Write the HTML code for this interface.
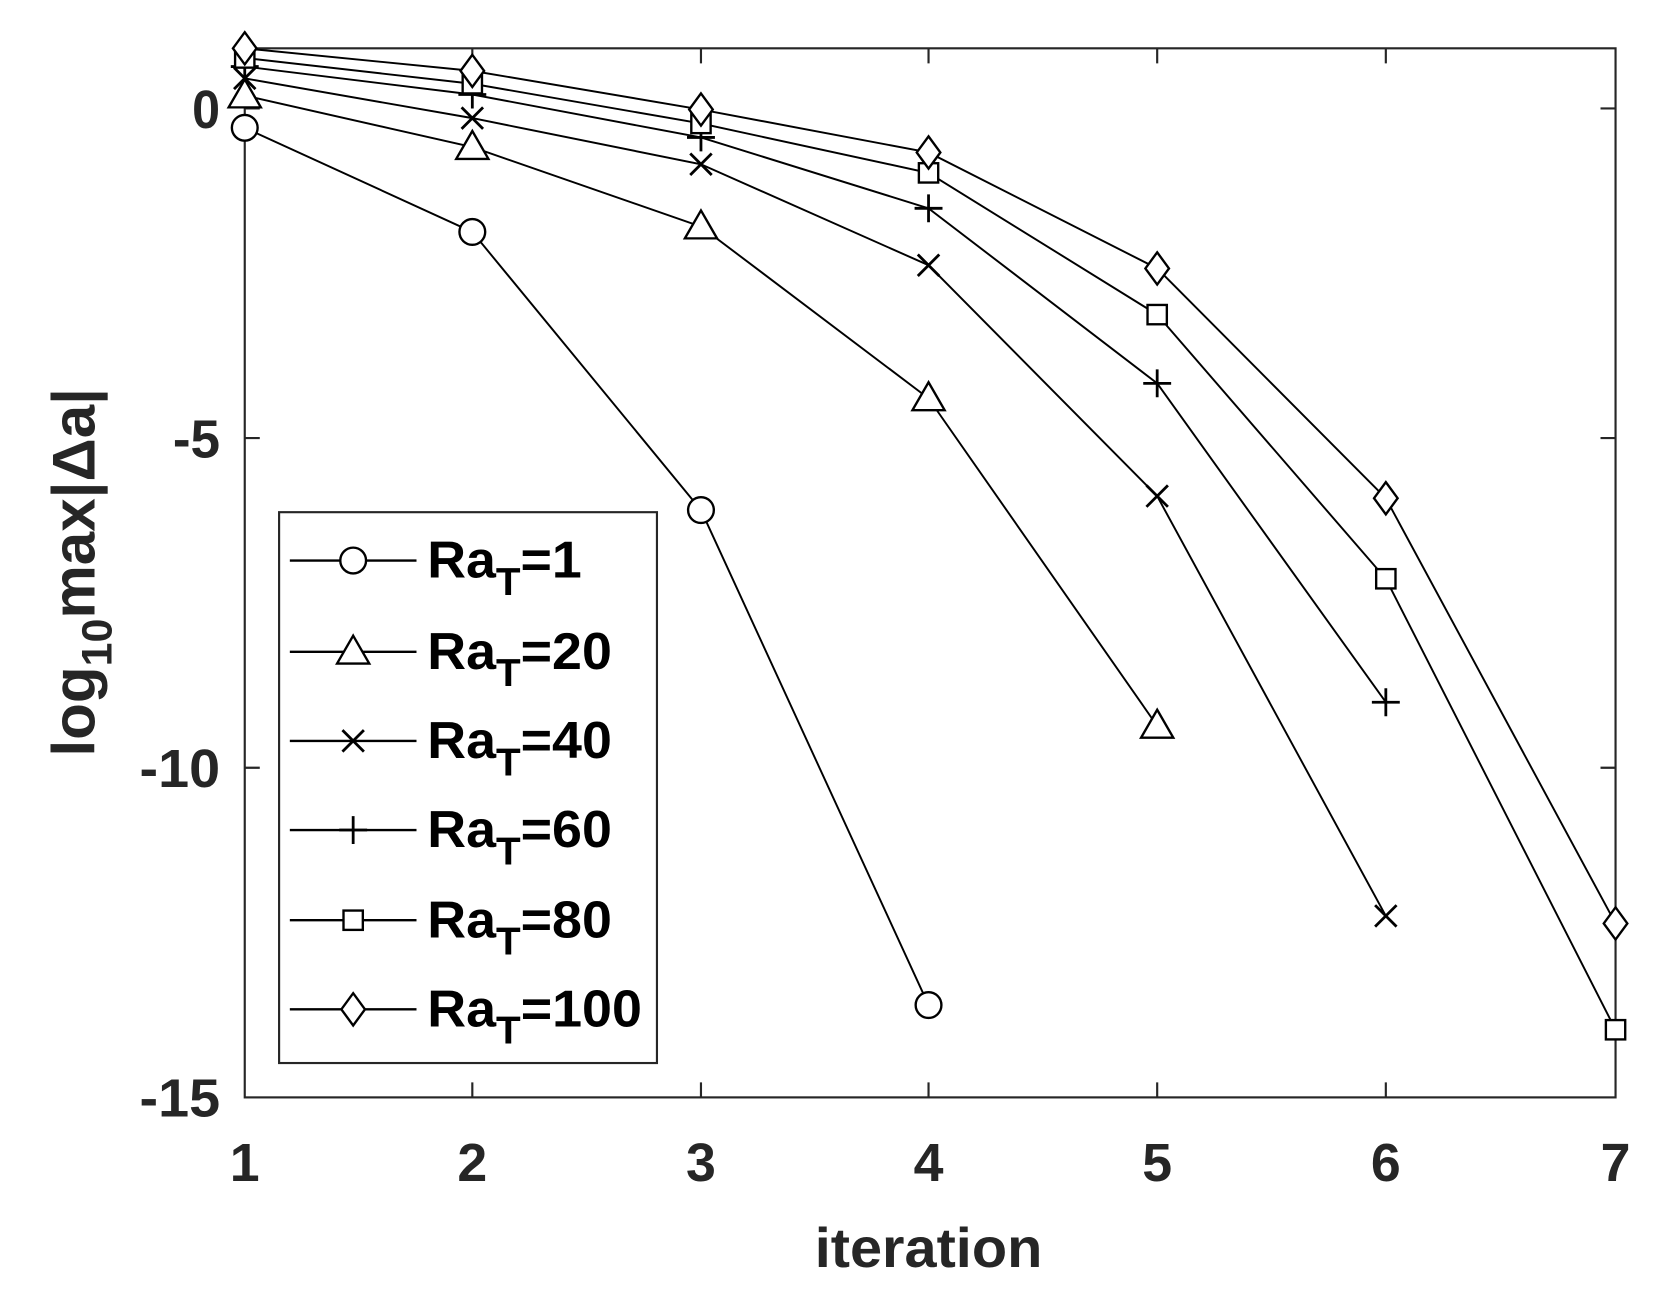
<!DOCTYPE html>
<html><head><style>html,body{margin:0;padding:0;background:#fff}svg{display:block}</style></head>
<body>
<svg width="1666" height="1310" viewBox="0 0 1552 1220" preserveAspectRatio="none" xmlns="http://www.w3.org/2000/svg" font-family="Liberation Sans, Arial, sans-serif" font-weight="bold">
<rect width="1552" height="1220" fill="#fff"/>
<g stroke="#262626" stroke-width="2" fill="none">
<rect x="228" y="45" width="1277" height="977"/>
<path d="M228,101h14M228,408h14M228,715h14M1505,101h-14M1505,408h-14M1505,715h-14
M440,1022v-14M653,1022v-14M865,1022v-14M1078,1022v-14M1291,1022v-14
M440,45v14M653,45v14M865,45v14M1078,45v14M1291,45v14"/>
</g>
<g fill="#262626" font-size="50" text-anchor="end">
<text x="205" y="119" textLength="26" lengthAdjust="spacingAndGlyphs">0</text>
<text x="205" y="426" textLength="44" lengthAdjust="spacingAndGlyphs">-5</text>
<text x="205" y="733" textLength="75" lengthAdjust="spacingAndGlyphs">-10</text>
<text x="205" y="1040" textLength="75" lengthAdjust="spacingAndGlyphs">-15</text>
</g>
<g fill="#262626" font-size="50" text-anchor="middle">
<text x="228" y="1100">1</text><text x="440" y="1100">2</text><text x="653" y="1100">3</text><text x="865" y="1100">4</text><text x="1078" y="1100">5</text><text x="1291" y="1100">6</text><text x="1505" y="1100">7</text>
<text x="865" y="1180" font-size="52" textLength="212" lengthAdjust="spacingAndGlyphs">iteration</text>
</g>
<text transform="translate(88,533) rotate(-90)" text-anchor="middle" fill="#262626" font-size="56">log<tspan font-size="40" dy="16">10</tspan><tspan dy="-16">max|Δa|</tspan></text>
<g stroke="#000" stroke-width="1.8" fill="none">
<polyline points="228,119 440,216 653,475 865,936"/>
<polyline points="228,89 440,137 653,211 865,371 1078,676"/>
<polyline points="228,73 440,110 653,153 865,247 1078,462 1291,853"/>
<polyline points="228,62 440,88 653,128 865,194 1078,357 1291,654"/>
<polyline points="228,54 440,78 653,115 865,161 1078,293 1291,539 1505,959"/>
<polyline points="228,45 440,66 653,102 865,142 1078,250 1291,464 1505,860"/>
</g>
<defs>
<g id="o"><circle r="12" fill="#fff" stroke="#000" stroke-width="2.2"/></g>
<g id="t"><path d="M0,-15 L15,11 L-15,11Z" fill="#fff" stroke="#000" stroke-width="2.2"/></g>
<g id="x"><path d="M-10,-10L10,10M-10,10L10,-10" stroke="#000" stroke-width="2.6"/></g>
<g id="p"><path d="M-13,0H13M0,-13V13" stroke="#000" stroke-width="2.6"/></g>
<g id="s"><rect x="-9" y="-9" width="18" height="18" fill="#fff" stroke="#000" stroke-width="2.2"/></g>
<g id="d"><path d="M0,-15L11,0L0,15L-11,0Z" fill="#fff" stroke="#000" stroke-width="2.2"/></g>
</defs>
<use href="#o" x="228" y="119"/><use href="#o" x="440" y="216"/><use href="#o" x="653" y="475"/><use href="#o" x="865" y="936"/>
<use href="#t" x="228" y="89"/><use href="#t" x="440" y="137"/><use href="#t" x="653" y="211"/><use href="#t" x="865" y="371"/><use href="#t" x="1078" y="676"/>
<use href="#x" x="228" y="73"/><use href="#x" x="440" y="110"/><use href="#x" x="653" y="153"/><use href="#x" x="865" y="247"/><use href="#x" x="1078" y="462"/><use href="#x" x="1291" y="853"/>
<use href="#p" x="228" y="62"/><use href="#p" x="440" y="88"/><use href="#p" x="653" y="128"/><use href="#p" x="865" y="194"/><use href="#p" x="1078" y="357"/><use href="#p" x="1291" y="654"/>
<use href="#s" x="228" y="54"/><use href="#s" x="440" y="78"/><use href="#s" x="653" y="115"/><use href="#s" x="865" y="161"/><use href="#s" x="1078" y="293"/><use href="#s" x="1291" y="539"/><use href="#s" x="1505" y="959"/>
<use href="#d" x="228" y="45"/><use href="#d" x="440" y="66"/><use href="#d" x="653" y="102"/><use href="#d" x="865" y="142"/><use href="#d" x="1078" y="250"/><use href="#d" x="1291" y="464"/><use href="#d" x="1505" y="860"/>
<rect x="260" y="477" width="352" height="513" fill="#fff" stroke="#262626" stroke-width="2"/>
<g stroke="#000" stroke-width="2.2">
<path d="M270,522H388M270,607H388M270,690H388M270,773H388M270,857H388M270,940H388"/>
</g>
<use href="#o" x="329" y="522"/><use href="#t" x="329" y="607"/><use href="#x" x="329" y="690"/><use href="#p" x="329" y="773"/><use href="#s" x="329" y="857"/><use href="#d" x="329" y="940"/>
<g fill="#000" font-size="48">
<text x="398" y="538" textLength="144" lengthAdjust="spacingAndGlyphs">Ra<tspan font-size="36" dy="16">T</tspan><tspan dy="-16">=1</tspan></text>
<text x="398" y="623" textLength="172" lengthAdjust="spacingAndGlyphs">Ra<tspan font-size="36" dy="16">T</tspan><tspan dy="-16">=20</tspan></text>
<text x="398" y="706" textLength="172" lengthAdjust="spacingAndGlyphs">Ra<tspan font-size="36" dy="16">T</tspan><tspan dy="-16">=40</tspan></text>
<text x="398" y="789" textLength="172" lengthAdjust="spacingAndGlyphs">Ra<tspan font-size="36" dy="16">T</tspan><tspan dy="-16">=60</tspan></text>
<text x="398" y="873" textLength="172" lengthAdjust="spacingAndGlyphs">Ra<tspan font-size="36" dy="16">T</tspan><tspan dy="-16">=80</tspan></text>
<text x="398" y="956" textLength="200" lengthAdjust="spacingAndGlyphs">Ra<tspan font-size="36" dy="16">T</tspan><tspan dy="-16">=100</tspan></text>
</g>
</svg>
</body></html>
